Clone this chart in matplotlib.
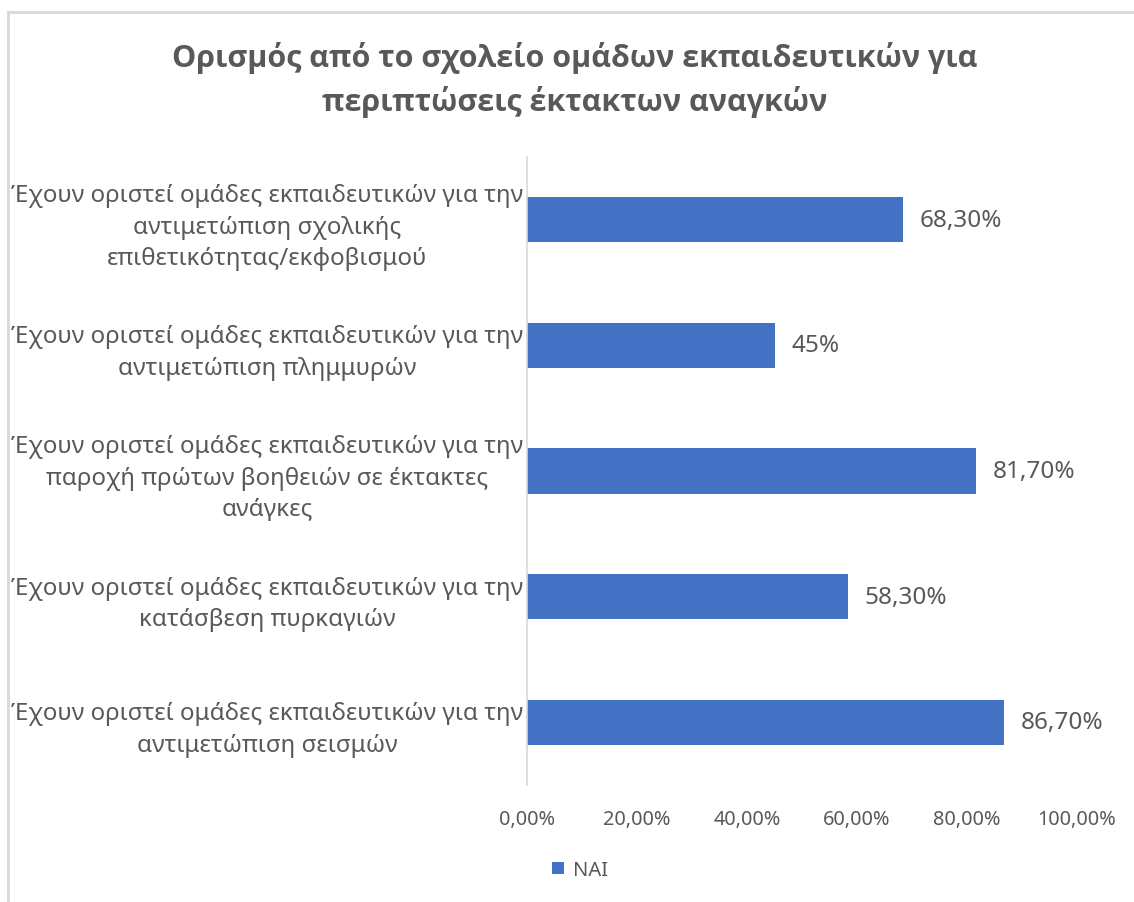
import matplotlib
matplotlib.use("Agg")
import matplotlib.pyplot as plt
from matplotlib.lines import Line2D
from matplotlib.patches import Patch
from matplotlib.ticker import FuncFormatter

categories = [
    "Έχουν οριστεί ομάδες εκπαιδευτικών για την\nαντιμετώπιση σχολικής\nεπιθετικότητας/εκφοβισμού",
    "Έχουν οριστεί ομάδες εκπαιδευτικών για την\nαντιμετώπιση πλημμυρών",
    "Έχουν οριστεί ομάδες εκπαιδευτικών για την\nπαροχή πρώτων βοηθειών σε έκτακτες\nανάγκες",
    "Έχουν οριστεί ομάδες εκπαιδευτικών για την\nκατάσβεση πυρκαγιών",
    "Έχουν οριστεί ομάδες εκπαιδευτικών για την\nαντιμετώπιση σεισμών",
]
values = [68.3, 45, 81.7, 58.3, 86.7]
value_labels = ["68,30%", "45%", "81,70%", "58,30%", "86,70%"]
series_name = "ΝΑΙ"
title = "Ορισμός από το σχολείο ομάδων εκπαιδευτικών για\nπεριπτώσεις έκτακτων αναγκών"

body_font = ["Noto Sans", "DejaVu Sans"]
grey = "#595959"
bar_color = "#4472C4"

fig = plt.figure(figsize=(11.34, 9.03), dpi=100)
ax = fig.add_axes([527 / 1134, 1 - 786 / 903, 550 / 1134, 628 / 903])

ypos = list(range(len(categories)))
ax.barh(ypos, values, height=0.36, color=bar_color)
ax.set_ylim(-0.5, len(categories) - 0.5)
ax.invert_yaxis()
ax.set_xlim(0, 100)

# value labels to the right of each bar
for y, v, lab in zip(ypos, values, value_labels):
    ax.annotate(lab, (v, y), xytext=(12, 0), textcoords="offset points",
                va="center", ha="left", fontsize=17.5, color=grey, family=body_font)

ax.set_xticks([0, 20, 40, 60, 80, 100])
ax.xaxis.set_major_formatter(FuncFormatter(lambda x, p: f"{x:.2f}%".replace(".", ",")))
ax.set_yticks(ypos)
ax.set_yticklabels(categories, ha="center", multialignment="center",
                   fontsize=17.4, color=grey, family=body_font, linespacing=1.42)
ax.tick_params(axis="y", length=0, pad=187)
ax.tick_params(axis="x", length=0, pad=17, labelsize=14.3, labelcolor=grey)
for lab in ax.get_xticklabels():
    lab.set_family(body_font)

for side in ["top", "right", "bottom"]:
    ax.spines[side].set_visible(False)
ax.spines["left"].set_color("#d9d9d9")
ax.spines["left"].set_linewidth(1.2)

fig.text(575 / 1134, 1 - 80 / 903, title, ha="center", va="center",
         fontsize=22, fontweight="bold", color=grey, family=["Open Sans", "DejaVu Sans"],
         linespacing=1.45)

handles = [Patch(facecolor=bar_color, label=series_name)]
leg = fig.legend(handles=handles, loc="center", bbox_to_anchor=(580 / 1134, 1 - 871 / 903),
                 frameon=False, handlelength=0.6, handleheight=0.6, handletextpad=0.4,
                 prop={"family": body_font, "size": 14.5})
for t in leg.get_texts():
    t.set_color(grey)

# outer chart frame (top and left edges)
fig.add_artist(Line2D([8 / 1134, 1], [1 - 13 / 903, 1 - 13 / 903], transform=fig.transFigure,
                      color="#d9d9d9", linewidth=2))
fig.add_artist(Line2D([8 / 1134, 8 / 1134], [0, 1 - 13 / 903], transform=fig.transFigure,
                      color="#d9d9d9", linewidth=2))

fig.savefig("out.png", dpi=100)
